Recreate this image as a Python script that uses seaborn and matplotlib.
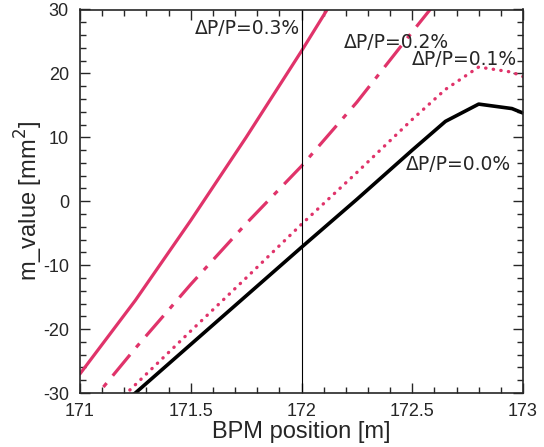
import matplotlib.pyplot as plt
import seaborn as sns
from matplotlib.ticker import MultipleLocator

# data
pos = [171.0, 171.25, 171.5, 171.75, 172.0, 172.25, 172.5, 172.65, 172.8, 172.95, 173.0]
m_00 = [-37.6, -30.0, -22.4, -14.8, -7.2, 0.3, 8.0, 12.5, 15.2, 14.5, 13.8]
m_01 = [-37.0, -28.7, -20.3, -12.0, -3.6, 4.5, 12.8, 17.5, 21.0, 20.2, 19.5]
pos_02 = [171.0, 171.25, 171.5, 171.75, 172.0, 172.25, 172.5, 172.65]
m_02 = [-33.5, -23.0, -13.0, -3.5, 5.5, 15.5, 26.5, 33.0]
pos_03 = [171.0, 171.25, 171.5, 171.75, 172.0, 172.25]
m_03 = [-27.0, -15.5, -3.0, 10.0, 23.5, 37.5]

labels = ["ΔP/P=0.3%", "ΔP/P=0.2%", "ΔP/P=0.1%", "ΔP/P=0.0%"]
label_x = [171.52, 172.19, 172.50, 172.47]
label_y = [27.1, 24.8, 22.25, 5.7]

pink = "#e0336a"

sns.set_style("ticks")
plt.rcParams['font.family'] = ['Liberation Sans', 'DejaVu Sans']
plt.rcParams['axes.unicode_minus'] = False

fig = plt.figure(figsize=(5.44, 4.47), dpi=100)
ax = fig.add_axes([80 / 544, 1 - 393 / 447, 443 / 544, 383.5 / 447])

sns.lineplot(x=pos_03, y=m_03, ax=ax, color=pink, linewidth=2.3)
l2 = sns.lineplot(x=pos_02, y=m_02, ax=ax, color=pink, linewidth=2.3).lines[-1]
l2.set_dashes((8.5, 3, 1.6, 3))
l1 = sns.lineplot(x=pos, y=m_01, ax=ax, color=pink, linewidth=2.4).lines[-1]
l1.set_dashes((0.1, 2.2))
l1.set_dash_capstyle("round")
sns.lineplot(x=pos, y=m_00, ax=ax, color="black", linewidth=2.6)

ax.axvline(172.0, color="black", linewidth=0.8)

for t, x, y in zip(labels, label_x, label_y):
    ax.text(x, y, t, fontsize=13.5, family=['DejaVu Sans'], ha="left", va="center")

ax.set_xlim(171, 173)
ax.set_ylim(-30, 30)
ax.xaxis.set_major_locator(MultipleLocator(0.5))
ax.xaxis.set_minor_locator(MultipleLocator(0.1))
ax.yaxis.set_major_locator(MultipleLocator(10))
ax.yaxis.set_minor_locator(MultipleLocator(2))
ax.set_xticks([171, 171.5, 172, 172.5, 173])
ax.set_xticklabels(["171", "171.5", "172", "172.5", "173"])
ax.tick_params(which="both", direction="in", top=True, right=True, labelsize=13, width=1)
ax.tick_params(which="major", length=7)
ax.tick_params(which="minor", length=4)
ax.tick_params(axis="x", pad=7)
ax.tick_params(axis="y", pad=8)
for s in ax.spines.values():
    s.set_linewidth(1.2)

ax.set_xlabel("BPM position [m]", fontsize=17)
ax.set_ylabel("m_value [mm$^2$]", fontsize=17)
ax.xaxis.set_label_coords(0.5, -0.073)
ax.yaxis.set_label_coords(-0.08, 0.5)

fig.savefig("out.png", dpi=100)
